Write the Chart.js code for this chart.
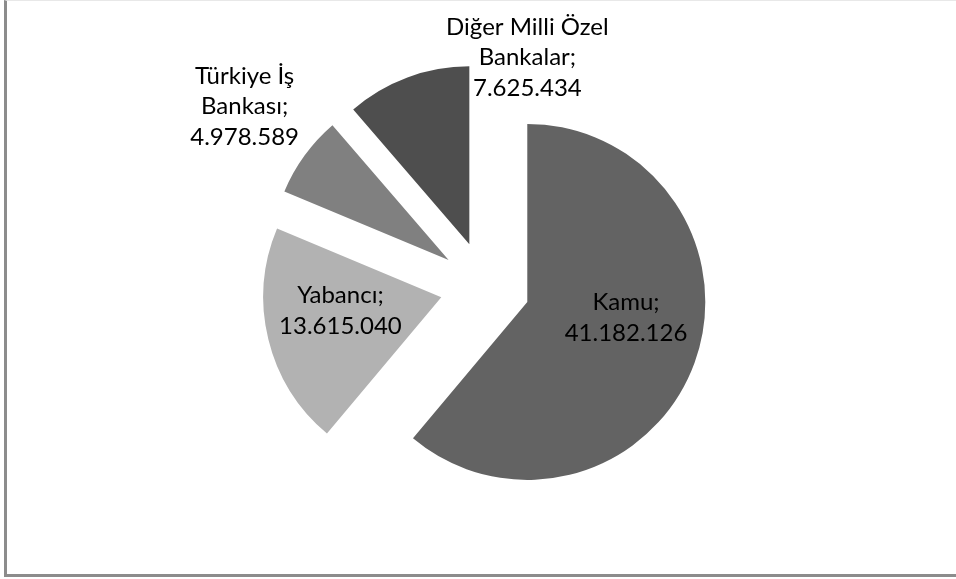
<!DOCTYPE html>
<html>
<head>
<meta charset="utf-8">
<script src="https://cdn.jsdelivr.net/npm/chart.js@4/dist/chart.umd.min.js"></script>
<style>
  html, body { margin: 0; padding: 0; background: #fff; }
  #wrap { position: relative; width: 956px; height: 579px; }
  #frame {
    position: absolute; left: 4px; top: 0; width: 952px; height: 577px;
    box-sizing: border-box;
    border-left: 3px solid #8c8c8c;
    border-bottom: 3px solid #8c8c8c;
    border-top: 1px solid #e8e8e8;
    pointer-events: none;
  }
</style>
</head>
<body>
<div id="wrap">
  <canvas id="pieChart" width="956" height="579"></canvas>
  <div id="frame"></div>
</div>
<script>
// categories and values (label lines as shown on the chart)
const categories = ['Kamu', 'Yabancı', 'Türkiye İş Bankası', 'Diğer Milli Özel Bankalar'];
const labelLines = [
    ['Kamu;'],
    ['Yabancı;'],
    ['Türkiye İş', 'Bankası;'],
    ['Diğer Milli Özel', 'Bankalar;']
];
const values = [41182126, 13615040, 4978589, 7625434];
const valueText = ['41.182.126', '13.615.040', '4.978.589', '7.625.434'];
const colors = ['#636363', '#b2b2b2', '#808080', '#4e4e4e'];

/**
 * Label placement: distance from slice tip (share of radius) and a pixel nudge.
 */
const labelPlace = [
    {r: 0.56, dx: 5, dy: -18},
    {r: 0.56, dx: -4, dy: -10},
    {r: 1.43, dx: 2, dy: -4},
    {r: 1.0, dx: 120, dy: -20}
];

/**
 * Chart.js grows the radius and trims the angle of offset arcs,
 * this undoes that so exploded slices keep the same size.
 */
const explodeFix = {
    id: 'explodeFix',
    afterDatasetUpdate(chart, args) {
        args.meta.data.forEach(function(arc) {
            const t = (arc.options.offset || 0) / 4;
            const fix = 1 - Math.sin(Math.min(Math.PI, arc.circumference));
            const ro = t * fix;
            const R = arc.outerRadius;
            arc.outerRadius = R - ro;
            const d = ro / Math.PI / R / 2;
            arc.startAngle -= d;
            arc.endAngle += d;
        });
    }
};

/**
 * Draws the "name; value" labels.
 */
const sliceLabels = {
    id: 'sliceLabels',
    afterDatasetsDraw(chart) {
        const ctx = chart.ctx;
        const meta = chart.getDatasetMeta(0);
        ctx.save();
        ctx.font = '24px Lato';
        ctx.fillStyle = '#000';
        ctx.textAlign = 'center';
        ctx.textBaseline = 'middle';
        meta.data.forEach(function(arc, i) {
            const mid = (arc.startAngle + arc.endAngle) / 2;
            const t = (arc.options.offset || 0) / 4;
            const R = arc.outerRadius + t * (1 - Math.sin(Math.min(Math.PI, arc.circumference)));
            const p = labelPlace[i];
            const x = arc.x + Math.cos(mid) * (t + p.r * R) + p.dx;
            const y = arc.y + Math.sin(mid) * (t + p.r * R) + p.dy;
            const lines = labelLines[i].concat([valueText[i]]);
            const lh = 30.5;
            lines.forEach(function(line, j) {
                ctx.fillText(line, x, y + (j - (lines.length - 1) / 2) * lh);
            });
        });
        ctx.restore();
    }
};

new Chart(document.getElementById('pieChart').getContext('2d'), {
    type: 'pie',
    data: {
        labels: categories,
        datasets: [{
            data: values,
            backgroundColor: colors,
            borderWidth: 0,
            offset: 180,
            radius: 178
        }]
    },
    options: {
        responsive: false,
        animation: false,
        layout: { padding: { left: 14, right: 0, top: 0, bottom: 6 } },
        plugins: {
            legend: { display: false },
            tooltip: { enabled: false }
        },
        events: []
    },
    plugins: [explodeFix, sliceLabels]
});
</script>
</body>
</html>
